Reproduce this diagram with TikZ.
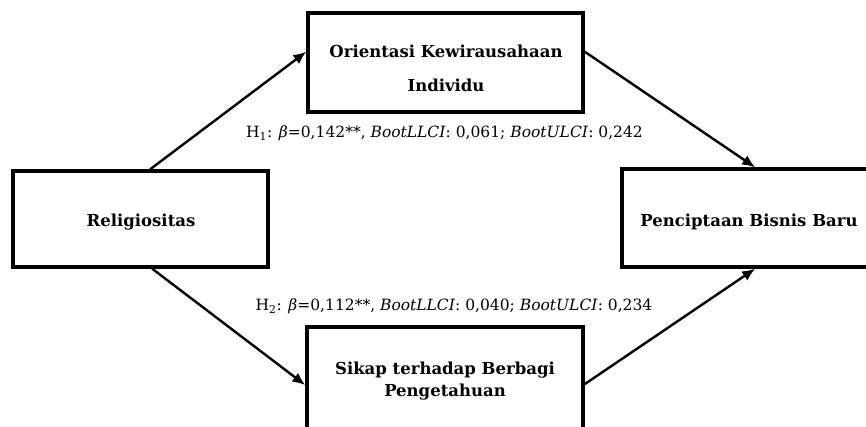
\documentclass[tikz,border=0pt]{standalone}
\usepackage{fontspec}
\setmainfont{DejaVu Serif}
\usetikzlibrary{arrows.meta,calc}
\begin{document}
\begin{tikzpicture}[x=1pt,y=-1pt,
  box/.style={draw,line width=3.3pt,inner sep=0pt},
  boxtext/.style={anchor=base,inner sep=0pt,font=\fontsize{16.5}{20}\selectfont\bfseries},
  hyplabel/.style={anchor=base,inner sep=0pt,font=\fontsize{15.5}{19}\selectfont},
  conn/.style={line width=2.4pt,-{Latex[length=13pt,width=11pt]}}]
\useasboundingbox (0,0) rectangle (866,426);
\clip (0,0) rectangle (866,426);
\node[box,minimum width=275pt,minimum height=99pt] (O) at (445.5,62.5) {};
\node[box,minimum width=255pt,minimum height=96pt] (R) at (140.5,219) {};
\node[box,minimum width=254pt,minimum height=98pt] (P) at (749,218) {};
\node[box,minimum width=276pt,minimum height=105pt] (S) at (445,379.5) {};
\node[boxtext] (tO1) at (446,57.3) {Orientasi Kewirausahaan};
\node[boxtext] (tO2) at (446,91.7) {Individu};
\node[boxtext] (tR) at (141,226.7) {Religiositas};
\node[boxtext] (tP) at (749,226) {Penciptaan Bisnis Baru};
\node[boxtext] (tS1) at (445,374) {Sikap terhadap Berbagi};
\node[boxtext] (tS2) at (445,396) {Pengetahuan};
\node[hyplabel] (h1) at (444.5,137) {H\textsubscript{1}: \textit{β}=0,142**, \textit{BootLLCI}: 0,061; \textit{BootULCI}: 0,242};
\node[hyplabel] (h2) at (454,310) {H\textsubscript{2}: \textit{β}=0,112**, \textit{BootLLCI}: 0,040; \textit{BootULCI}: 0,234};
\draw[conn] ($(R.north west)!0.537!(R.north east)$) -- ($(O.north west)!0.394!(O.south west)$);
\draw[conn] ($(O.north east)!0.394!(O.south east)$) -- ($(P.north west)!0.524!(P.north east)$);
\draw[conn] ($(R.south west)!0.545!(R.south east)$) -- ($(S.north west)!0.552!(S.south west)$);
\draw[conn] ($(S.north east)!0.543!(S.south east)$) -- ($(P.south west)!0.524!(P.south east)$);
\end{tikzpicture}
\end{document}
